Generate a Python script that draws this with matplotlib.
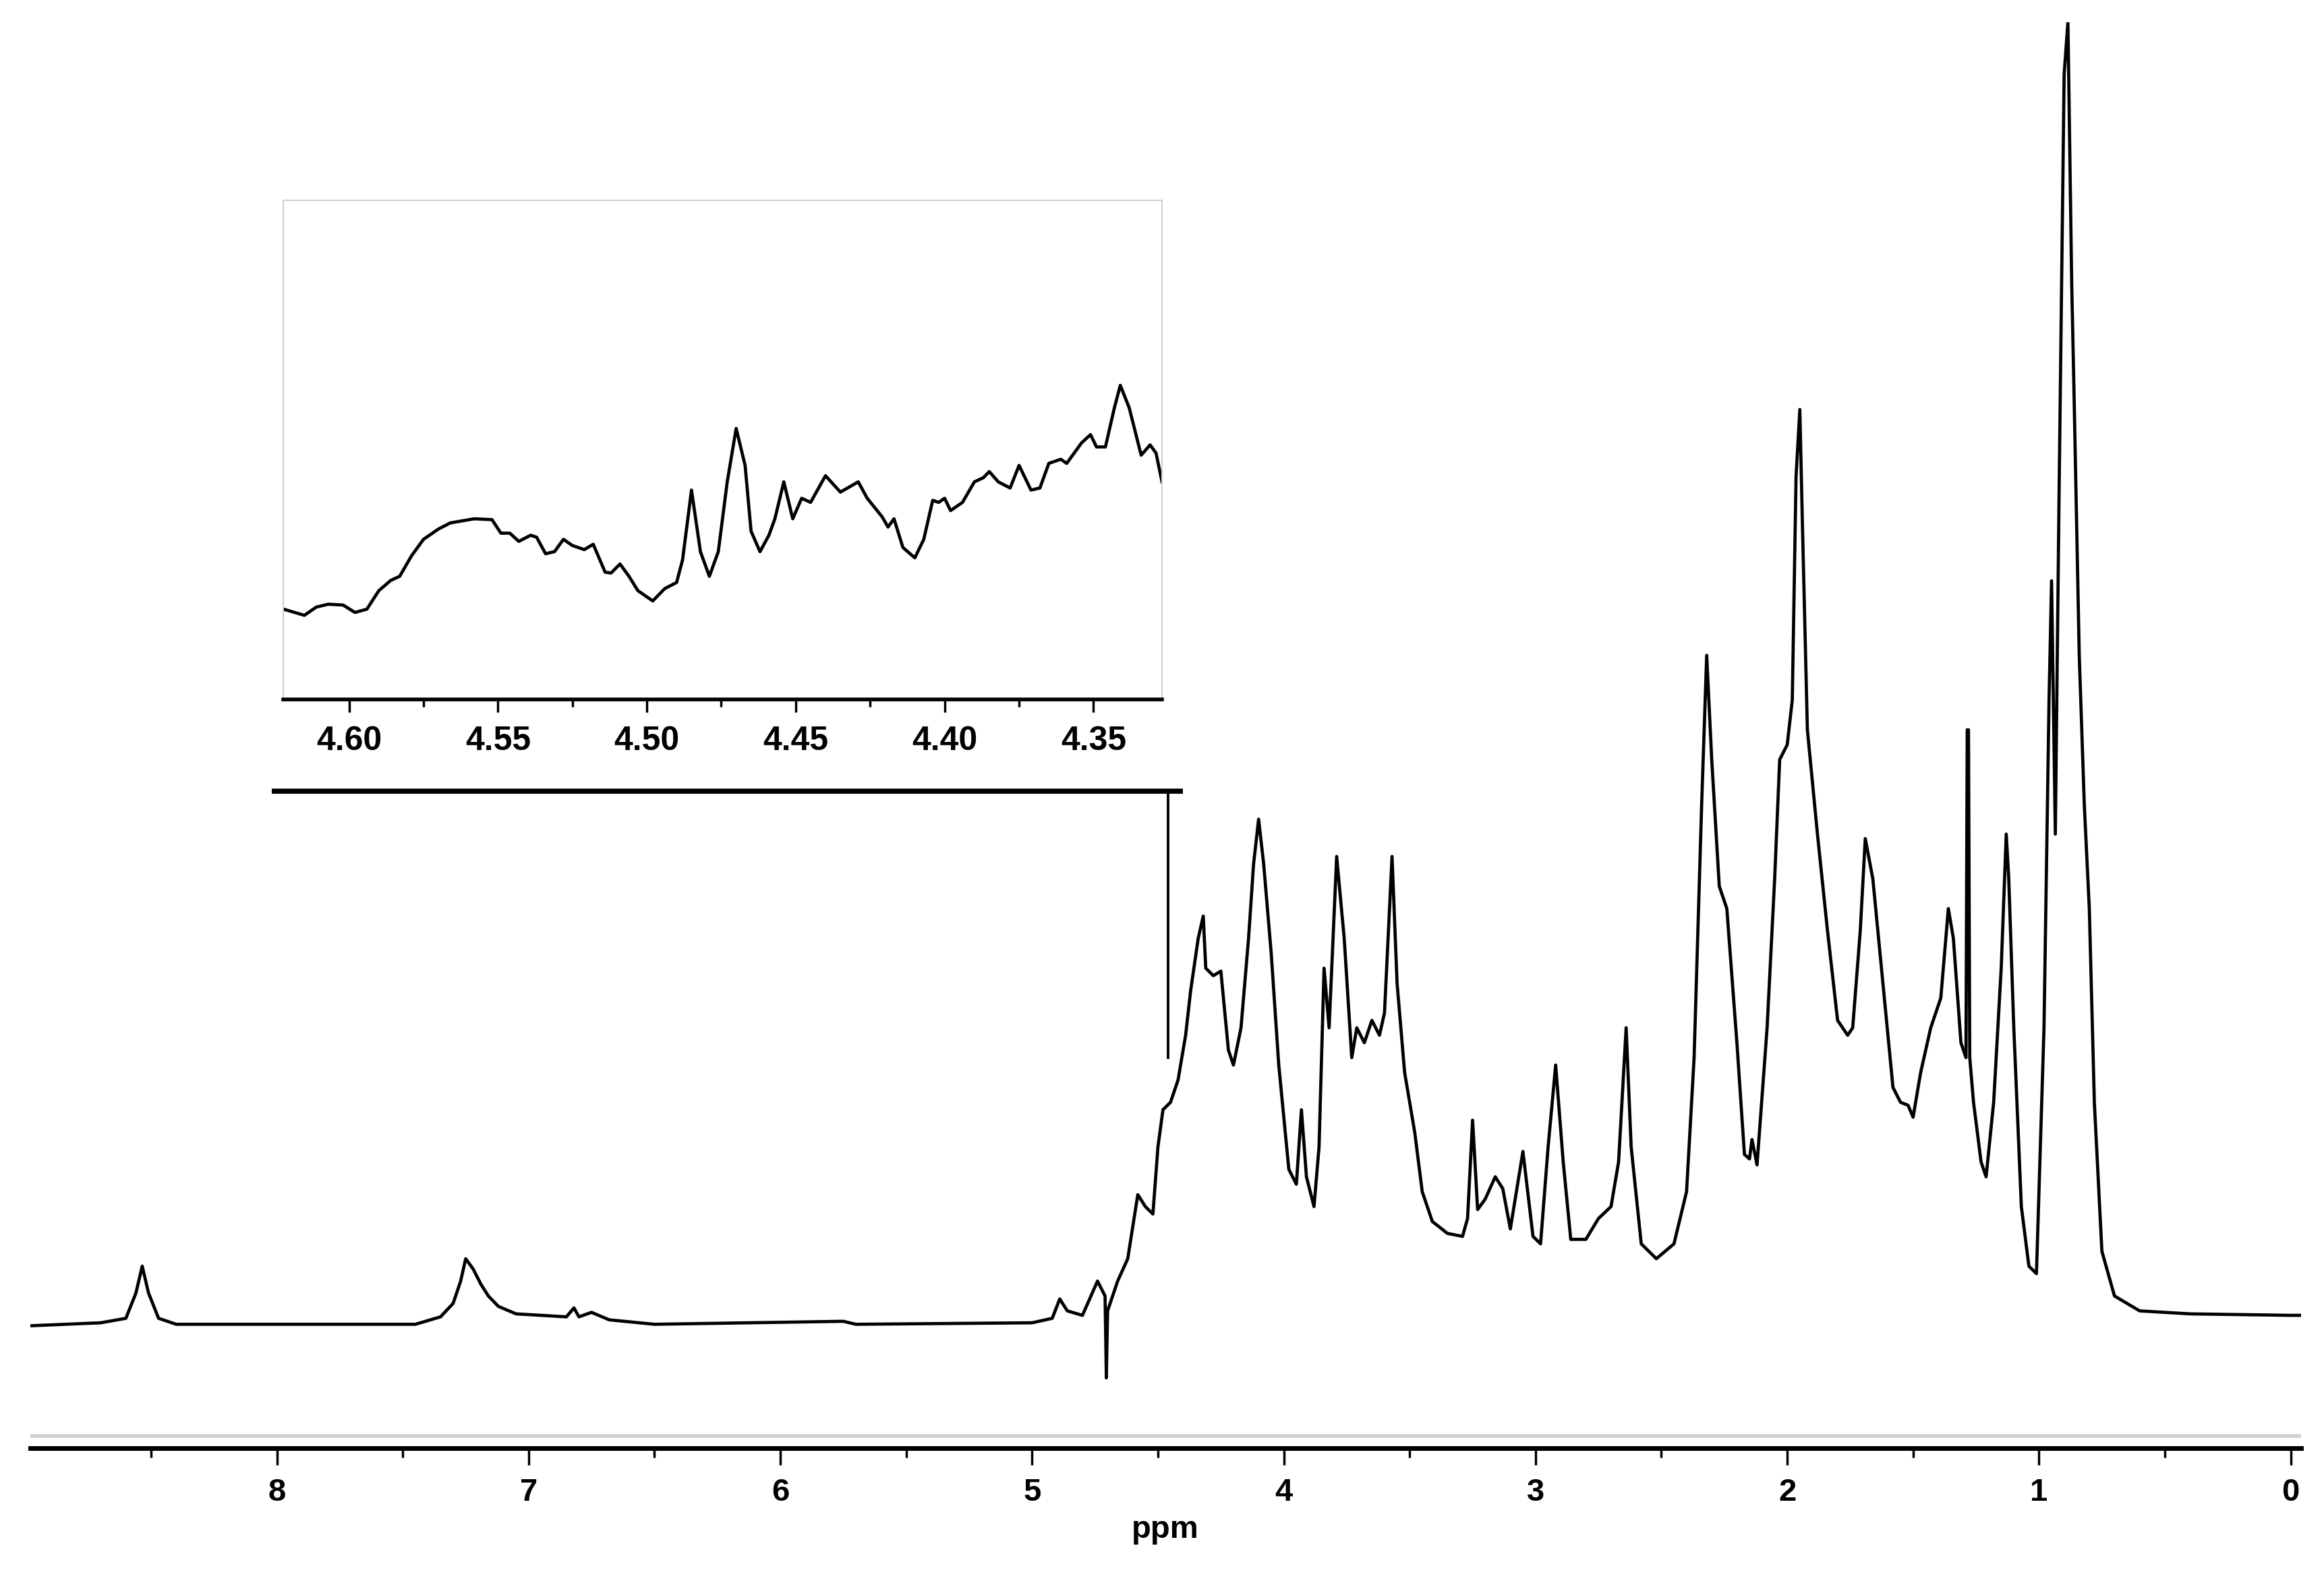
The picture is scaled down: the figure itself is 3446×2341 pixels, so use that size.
import matplotlib
matplotlib.use('Agg')
import matplotlib.pyplot as plt
from matplotlib.ticker import MultipleLocator

plt.rcParams['font.family'] = ['Liberation Sans', 'DejaVu Sans']

# Main 1H spectrum (ppm, intensity in arbitrary units)
ppm = [8.98, 8.70, 8.60, 8.56, 8.535, 8.51, 8.47, 8.40, 7.45, 7.35, 7.30, 7.27, 7.25, 7.22, 7.19, 7.16,
       7.12, 7.05, 6.85, 6.82, 6.80, 6.75, 6.68, 6.50, 5.75, 5.70, 5.00, 4.92, 4.89, 4.86, 4.80, 4.74,
       4.71, 4.705, 4.70, 4.66, 4.62, 4.58, 4.55, 4.52, 4.50, 4.48, 4.45, 4.42, 4.39, 4.37, 4.34, 4.32,
       4.31, 4.28, 4.25, 4.22, 4.20, 4.17, 4.14, 4.12, 4.10, 4.08, 4.05, 4.02, 3.98, 3.95, 3.93, 3.91,
       3.88, 3.86, 3.84, 3.82, 3.79, 3.76, 3.73, 3.71, 3.68, 3.65, 3.62, 3.60, 3.57, 3.55, 3.52, 3.48,
       3.45, 3.41, 3.35, 3.29, 3.27, 3.25, 3.23, 3.20, 3.16, 3.13, 3.10, 3.05, 3.01, 2.98, 2.95, 2.92,
       2.89, 2.86, 2.80, 2.75, 2.70, 2.67, 2.64, 2.62, 2.58, 2.52, 2.45, 2.40, 2.37, 2.34, 2.32, 2.30,
       2.27, 2.24, 2.20, 2.17, 2.15, 2.14, 2.12, 2.08, 2.05, 2.03, 2.00, 1.98, 1.965, 1.95, 1.94, 1.92,
       1.88, 1.84, 1.80, 1.76, 1.74, 1.71, 1.69, 1.66, 1.62, 1.58, 1.55, 1.52, 1.50, 1.47, 1.43, 1.39,
       1.36, 1.34, 1.31, 1.29, 1.285, 1.28, 1.275, 1.26, 1.23, 1.21, 1.18, 1.15, 1.13, 1.12, 1.10, 1.07,
       1.04, 1.01, 0.98, 0.96, 0.95, 0.935, 0.92, 0.90, 0.885, 0.87, 0.86, 0.84, 0.82, 0.80, 0.78, 0.75,
       0.70, 0.60, 0.40, 0.00, -0.05]
intensity = [0, 2, 5, 22, 40, 22, 5, 1, 1, 6, 15, 30, 45, 38, 28, 20,
             13, 8, 6, 12, 6, 9, 4, 1, 3, 1, 2, 5, 18, 10, 7, 30,
             20, -35, 10, 30, 45, 88, 80, 75, 120, 145, 150, 165, 195, 225, 260, 275,
             240, 235, 238, 185, 175, 200, 260, 310, 340, 310, 250, 175, 105, 95, 145, 100,
             80, 120, 240, 200, 315, 260, 180, 200, 190, 205, 195, 210, 315, 230, 170, 130,
             90, 70, 62, 60, 72, 138, 78, 85, 100, 92, 65, 117, 60, 55, 120, 175,
             110, 58, 58, 72, 80, 110, 200, 120, 55, 45, 55, 90, 180, 350, 450, 380,
             295, 280, 190, 115, 112, 125, 108, 200, 300, 380, 390, 420, 570, 615, 540, 400,
             330, 265, 205, 195, 200, 265, 327, 300, 230, 160, 150, 148, 140, 170, 200, 220,
             280, 260, 190, 180, 400, 400, 180, 150, 110, 100, 150, 240, 330, 300, 200, 80,
             40, 35, 200, 420, 500, 330, 560, 840, 875, 700, 620, 450, 350, 280, 150, 50,
             20, 10, 8, 7, 7]

# Inset: zoom of 4.62 - 4.33 ppm
inset_ppm = [4.622, 4.615, 4.611, 4.607, 4.602, 4.598, 4.594, 4.590, 4.586, 4.583, 4.579, 4.575,
             4.570, 4.566, 4.562, 4.558, 4.552, 4.549, 4.546, 4.543, 4.539, 4.537, 4.534, 4.531,
             4.528, 4.525, 4.521, 4.518, 4.514, 4.512, 4.509, 4.506, 4.503, 4.498, 4.494, 4.490,
             4.488, 4.485, 4.482, 4.479, 4.476, 4.473, 4.470, 4.467, 4.465, 4.462, 4.459, 4.457,
             4.454, 4.451, 4.448, 4.445, 4.440, 4.435, 4.429, 4.426, 4.421, 4.419, 4.417, 4.414,
             4.410, 4.407, 4.404, 4.402, 4.400, 4.398, 4.394, 4.390, 4.387, 4.385, 4.382, 4.378,
             4.375, 4.371, 4.368, 4.365, 4.361, 4.359, 4.356, 4.354, 4.351, 4.349, 4.346, 4.343,
             4.341, 4.338, 4.334, 4.331, 4.329, 4.327]
inset_int = [220, 205, 225, 232, 230, 212, 220, 265, 290, 300, 350, 390,
             415, 430, 435, 440, 438, 405, 405, 385, 400, 395, 355, 360,
             390, 375, 365, 378, 310, 308, 330, 300, 265, 240, 270, 285,
             340, 510, 360, 300, 360, 530, 660, 570, 410, 360, 400, 440,
             530, 440, 490, 480, 545, 505, 530, 490, 445, 420, 440, 370,
             345, 390, 485, 480, 490, 460, 480, 530, 540, 555, 530, 515,
             570, 510, 515, 575, 585, 575, 605, 625, 645, 615, 615, 710,
             765, 710, 595, 620, 600, 530]

main_ticks = [8, 7, 6, 5, 4, 3, 2, 1, 0]
inset_ticks = [4.60, 4.55, 4.50, 4.45, 4.40, 4.35]

fig = plt.figure(figsize=(34.46, 23.41), dpi=100)

# main axes
ax = fig.add_axes([0.013, 0.083, 0.977, 0.903])
ax.plot(ppm, intensity, color='black', lw=3.4, solid_joinstyle='round')
ax.set_xlim(8.98, -0.04)
ax.set_ylim(-82, 875)
for s in ['left', 'right', 'top']:
    ax.spines[s].set_visible(False)
ax.spines['bottom'].set_linewidth(5)
ax.axhline(-74, color='#d0d0d0', lw=4)
ax.set_yticks([])
ax.set_xticks(main_ticks)
ax.set_xticklabels([str(t) for t in main_ticks], fontweight='bold')
ax.xaxis.set_minor_locator(MultipleLocator(0.5))
ax.tick_params(axis='x', which='major', length=18, width=2.5, labelsize=34, pad=14)
ax.tick_params(axis='x', which='minor', length=10, width=2.5)
ax.set_xlabel('ppm', fontsize=34, fontweight='bold', labelpad=8)

# bracket pointing to the zoomed region
ax.plot([8.02, 4.40], [359, 359], color='black', lw=5.5, solid_capstyle='butt')
ax.plot([4.46, 4.46], [359, 180], color='black', lw=2.8)

# inset
ins = fig.add_axes([0.122, 0.557, 0.378, 0.316])
ins.plot(inset_ppm, inset_int, color='black', lw=3.4, solid_joinstyle='round')
ins.set_xlim(4.622, 4.327)
ins.set_ylim(0, 1215)
for s in ['left', 'right', 'top']:
    ins.spines[s].set_color('#d0d0d0')
    ins.spines[s].set_linewidth(1.5)
ins.spines['bottom'].set_linewidth(4)
ins.set_yticks([])
ins.set_xticks(inset_ticks)
ins.set_xticklabels(['%.2f' % t for t in inset_ticks], fontweight='bold')
ins.xaxis.set_minor_locator(MultipleLocator(0.025))
ins.tick_params(axis='x', which='major', length=14, width=2.5, labelsize=36, pad=14)
ins.tick_params(axis='x', which='minor', length=8, width=2.5)

fig.savefig('out.png', dpi=100)
